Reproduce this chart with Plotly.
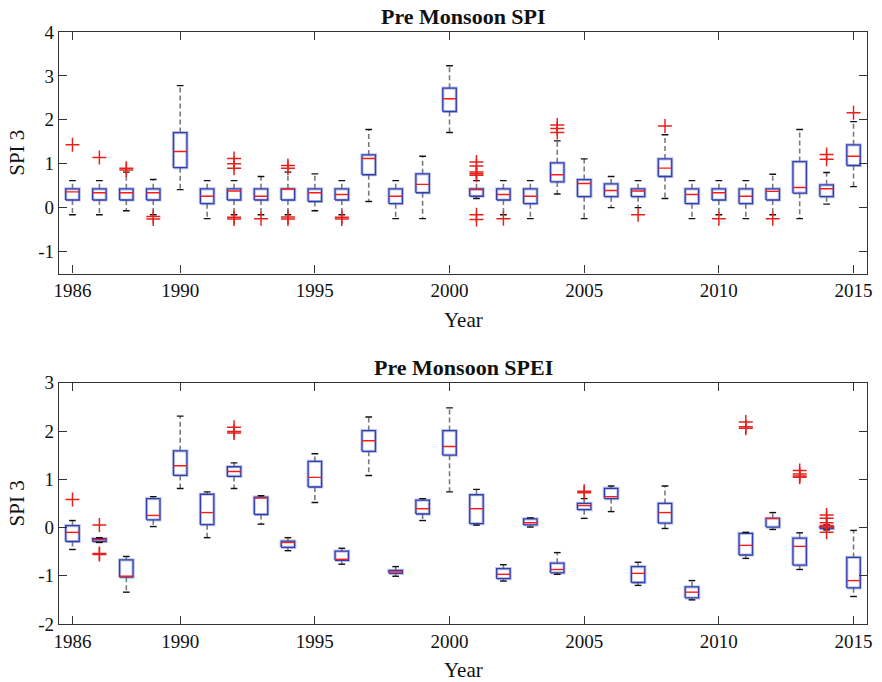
import plotly.graph_objects as go
from plotly.subplots import make_subplots

years = list(range(1986, 2016))

# ---- Pre Monsoon SPI (top) ----
spi_q1 = [0.175, 0.175, 0.175, 0.175, 0.91, 0.09, 0.175, 0.175, 0.175, 0.14,
          0.175, 0.75, 0.09, 0.34, 2.19, 0.26, 0.175, 0.09, 0.585, 0.25,
          0.25, 0.25, 0.71, 0.09, 0.175, 0.09, 0.175, 0.33, 0.25, 0.96]
spi_med = [0.36, 0.34, 0.34, 0.34, 1.28, 0.26, 0.38, 0.26, 0.43, 0.34,
           0.30, 1.12, 0.26, 0.53, 2.48, 0.41, 0.30, 0.26, 0.75, 0.55,
           0.39, 0.38, 0.90, 0.30, 0.34, 0.26, 0.37, 0.46, 0.43, 1.17]
spi_q3 = [0.43, 0.43, 0.43, 0.43, 1.71, 0.43, 0.43, 0.43, 0.43, 0.43,
          0.43, 1.20, 0.43, 0.77, 2.72, 0.43, 0.43, 0.43, 1.02, 0.64,
          0.54, 0.43, 1.11, 0.43, 0.43, 0.43, 0.43, 1.05, 0.52, 1.43]
spi_lo = [-0.16, -0.16, -0.07, -0.16, 0.41, -0.25, -0.16, -0.16, -0.16, -0.07,
          -0.16, 0.14, -0.25, -0.25, 1.71, 0.21, -0.16, -0.25, 0.31, -0.25,
          0.0, 0.0, 0.21, -0.25, -0.16, -0.25, -0.16, -0.25, 0.08, 0.48]
spi_hi = [0.615, 0.615, 0.81, 0.64, 2.78, 0.615, 0.615, 0.71, 0.81, 0.77,
          0.615, 1.78, 0.615, 1.17, 3.23, 0.615, 0.615, 0.615, 1.52, 1.11,
          0.71, 0.615, 1.66, 0.615, 0.615, 0.615, 0.76, 1.78, 0.80, 1.96]
spi_out = [[1.435], [1.14], [0.9, 0.86], [-0.2, -0.26], [], [], [1.12, 1.0, 0.9, -0.22, -0.26],
           [-0.25], [0.96, 0.9, -0.21, -0.26], [], [-0.22, -0.26], [], [], [], [],
           [1.04, 0.95, 0.81, 0.77, 0.74, -0.16, -0.27], [-0.25], [], [1.88, 1.80, 1.71], [],
           [], [-0.16], [1.86], [], [-0.25], [], [-0.25], [], [1.21, 1.10], [2.16]]

# ---- Pre Monsoon SPEI (bottom) ----
spei_q1 = [-0.29, -0.29, -1.03, 0.16, 1.08, 0.06, 1.06, 0.27, -0.41, 0.84,
           -0.68, 1.58, -0.95, 0.28, 1.50, 0.08, -1.06, 0.055, -0.94, 0.37,
           0.60, -1.14, 0.09, -1.46, None, -0.57, 0.01, -0.78, -0.02, -1.25]
spei_med = [-0.10, -0.25, -1.01, 0.25, 1.28, 0.31, 1.16, 0.61, -0.31, 1.04,
            -0.66, 1.80, -0.92, 0.39, 1.68, 0.39, -0.97, 0.10, -0.87, 0.455,
            0.64, -0.95, 0.31, -1.34, None, -0.37, 0.19, -0.39, 0.0, -1.10]
spei_q3 = [0.04, -0.23, -0.67, 0.60, 1.59, 0.69, 1.26, 0.63, -0.28, 1.37,
           -0.49, 2.01, -0.89, 0.57, 2.01, 0.68, -0.85, 0.18, -0.74, 0.50,
           0.81, -0.81, 0.50, -1.23, None, -0.12, 0.19, -0.22, 0.015, -0.62]
spei_lo = [-0.455, -0.31, -1.34, 0.02, 0.81, -0.21, 0.81, 0.07, -0.48, 0.52,
           -0.76, 1.08, -1.01, 0.145, 0.74, 0.05, -1.11, 0.01, -0.97, 0.19,
           0.33, -1.20, -0.02, -1.50, None, -0.64, -0.04, -0.87, -0.05, -1.43]
spei_hi = [0.145, -0.21, -0.60, 0.64, 2.31, 0.74, 1.34, 0.66, -0.21, 1.53,
           -0.43, 2.29, -0.81, 0.60, 2.48, 0.79, -0.77, 0.20, -0.52, 0.60,
           0.86, -0.72, 0.86, -1.10, None, -0.10, 0.31, -0.11, 0.055, -0.06]
spei_out = [[0.58], [0.05, -0.54, -0.56], [], [], [], [], [2.08, 1.99, 1.96], [], [], [],
            [], [], [], [], [], [], [], [], [], [0.75, 0.72],
            [], [], [], [], [], [2.19, 2.09, 2.06], [], [1.18, 1.11, 1.07, 1.04],
            [0.26, 0.19, 0.1, 0.04, -0.1], []]

titles = ["Pre Monsoon SPI", "Pre Monsoon SPEI"]
xtick_vals = [1986, 1990, 1995, 2000, 2005, 2010, 2015]
ytick_top = [-1, 0, 1, 2, 3, 4]
ytick_bot = [-2, -1, 0, 1, 2, 3]

BOX_HALF = 0.25
CAP_HALF = 0.125
FONT = "Liberation Serif, Times New Roman, serif"
TXT = "#111111"

fig = make_subplots(rows=2, cols=1, vertical_spacing=0.185)


def add_boxes(row, q1s, meds, q3s, los, his, outs):
    wx, wy, cx, cy, bx, by, mx, my, ox, oy = [], [], [], [], [], [], [], [], [], []
    for yr, q1, md, q3, lo, hi, ol in zip(years, q1s, meds, q3s, los, his, outs):
        if q1 is None:
            continue
        wx += [yr, yr, None, yr, yr, None]
        wy += [q3, hi, None, q1, lo, None]
        cx += [yr - CAP_HALF, yr + CAP_HALF, None, yr - CAP_HALF, yr + CAP_HALF, None]
        cy += [hi, hi, None, lo, lo, None]
        bx += [yr - BOX_HALF, yr + BOX_HALF, yr + BOX_HALF, yr - BOX_HALF, yr - BOX_HALF, None]
        by += [q1, q1, q3, q3, q1, None]
        mx += [yr - BOX_HALF, yr + BOX_HALF, None]
        my += [md, md, None]
        for v in ol:
            ox.append(yr)
            oy.append(v)
    fig.add_trace(go.Scatter(x=wx, y=wy, mode="lines", showlegend=False, hoverinfo="skip",
                             line=dict(color="#7a7a7a", width=1.6, dash="5px,3px")), row=row, col=1)
    fig.add_trace(go.Scatter(x=bx, y=by, mode="lines", showlegend=False, hoverinfo="skip",
                             line=dict(color="rgba(110,125,200,0.45)", width=3.2)), row=row, col=1)
    fig.add_trace(go.Scatter(x=bx, y=by, mode="lines", showlegend=False, hoverinfo="skip",
                             line=dict(color="#2f3fae", width=1.3)), row=row, col=1)
    fig.add_trace(go.Scatter(x=cx, y=cy, mode="lines", showlegend=False, hoverinfo="skip",
                             line=dict(color="#111111", width=1.4)), row=row, col=1)
    fig.add_trace(go.Scatter(x=mx, y=my, mode="lines", showlegend=False, hoverinfo="skip",
                             line=dict(color="#ff1a1a", width=1.4)), row=row, col=1)
    fig.add_trace(go.Scatter(x=ox, y=oy, mode="markers", showlegend=False, hoverinfo="skip",
                             marker=dict(symbol="cross-thin", size=10,
                                         line=dict(color="#e8201c", width=1.5))), row=row, col=1)


add_boxes(1, spi_q1, spi_med, spi_q3, spi_lo, spi_hi, spi_out)
add_boxes(2, spei_q1, spei_med, spei_q3, spei_lo, spei_hi, spei_out)

axis_common = dict(showline=True, mirror="ticks", linecolor="#333333", linewidth=1.2,
                   ticks="inside", ticklen=8, tickcolor="#333333", tickwidth=1.2,
                   showgrid=False, zeroline=False, ticklabeloverflow="allow",
                   tickfont=dict(family=FONT, size=19, color=TXT))

for r, (ytv, yr_range) in enumerate([(ytick_top, [-1.5, 4]), (ytick_bot, [-2, 3])], start=1):
    fig.update_xaxes(range=[1985.5, 2015.5], tickvals=xtick_vals,
                     ticktext=[str(v) for v in xtick_vals],
                     **axis_common, row=r, col=1)
    fig.update_yaxes(range=yr_range, tickvals=ytv, ticktext=[str(v) for v in ytv],
                     **axis_common, row=r, col=1)

fig.update_layout(
    width=882, height=682,
    margin=dict(l=59, r=10, t=32, b=58),
    paper_bgcolor="white", plot_bgcolor="white",
    font=dict(family=FONT, color=TXT),
)
TOP_DOM = [0.592, 1.0]
BOT_DOM = [0.0, 0.4074]
fig.update_yaxes(domain=TOP_DOM, row=1, col=1)
fig.update_yaxes(domain=BOT_DOM, row=2, col=1)

for t, dom in zip(titles, [TOP_DOM, BOT_DOM]):
    fig.add_annotation(text="<b>%s</b>" % t, x=0.5, y=dom[1], xref="paper", yref="paper",
                       xanchor="center", yanchor="bottom", yshift=1, showarrow=False,
                       font=dict(family=FONT, size=22, color=TXT))
    fig.add_annotation(text="Year", x=0.5, y=dom[0], xref="paper", yref="paper",
                       xanchor="center", yanchor="middle", yshift=-46, showarrow=False,
                       font=dict(family=FONT, size=21, color=TXT))
    fig.add_annotation(text="SPI 3", x=0, y=(dom[0] + dom[1]) / 2, xref="paper", yref="paper",
                       xanchor="center", yanchor="middle", xshift=-42, textangle=-90,
                       showarrow=False, font=dict(family=FONT, size=21, color=TXT))

# remove the default 8px page margin so the figure fills the window exactly
fig.write_html("out.html", config={"displayModeBar": False},
               post_script="document.body.style.margin='0';")
